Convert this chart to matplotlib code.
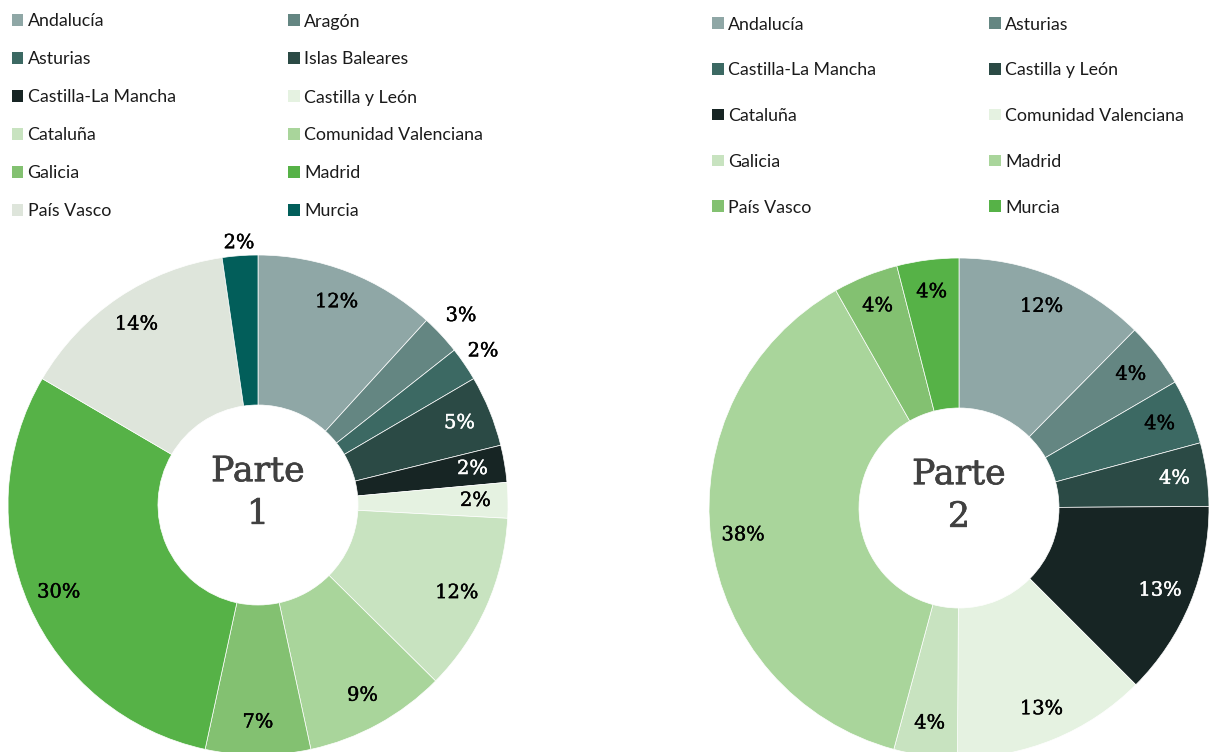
import numpy as np
import matplotlib.pyplot as plt
import matplotlib.patheffects as pe
from matplotlib.patches import Rectangle

# datos (porcentajes)
regiones_1 = ["Andalucía", "Aragón", "Asturias", "Islas Baleares", "Castilla-La Mancha",
              "Castilla y León", "Cataluña", "Comunidad Valenciana", "Galicia", "Madrid",
              "País Vasco", "Murcia"]
valores_1 = [11.8, 2.6, 2.2, 4.6, 2.4, 2.3, 11.6, 9.2, 6.8, 30.1, 14.3, 2.3]

regiones_2 = ["Andalucía", "Asturias", "Castilla-La Mancha", "Castilla y León", "Cataluña",
              "Comunidad Valenciana", "Galicia", "Madrid", "País Vasco", "Murcia"]
valores_2 = [12.4, 4.2, 4.2, 4.1, 12.6, 12.6, 4.1, 37.6, 4.2, 4.0]

paleta = ["#8FA7A6", "#648682", "#3C6963", "#2B4A45", "#172524", "#E5F2E1",
          "#C8E3C0", "#A9D59B", "#83C171", "#56B247", "#DEE5DB", "#025E5A"]

W, H = 1211, 752
fig = plt.figure(figsize=(W / 100, H / 100), dpi=100)

SERIF = "DejaVu Serif"
SANS = "Lato"


def ejes(cx, cy, r):
    return fig.add_axes([(cx - r) / W, 1 - (cy + r) / H, 2 * r / W, 2 * r / H])


def dona(ax, valores, titulo, blancos, fuera):
    wedges, _, textos = ax.pie(valores, colors=paleta[:len(valores)], startangle=90,
                               counterclock=False, radius=1, autopct="%.0f%%",
                               pctdistance=0.87,
                               wedgeprops=dict(width=0.6, edgecolor="white", linewidth=0.5),
                               textprops=dict(family=SERIF, fontsize=14))
    for i, t in enumerate(textos):
        if i in fuera:
            w = wedges[i]
            ang = np.deg2rad((w.theta1 + w.theta2) / 2)
            t.set_position((fuera[i] * np.cos(ang), fuera[i] * np.sin(ang)))
        c = "white" if i in blancos else "black"
        t.set_color(c)
        t.set_path_effects([pe.withStroke(linewidth=0.3, foreground=c)])
    ax.set_xlim(-1, 1)
    ax.set_ylim(-1, 1)
    ax.text(0, 0.05, titulo, ha="center", va="center", fontsize=25, family=SERIF,
            color="#404040", linespacing=1.32,
            path_effects=[pe.withStroke(linewidth=0.5, foreground="#404040")])


def leyenda(nombres, x0, dx, y0, dy):
    s = 11.5
    for i, n in enumerate(nombres):
        fila, col = i // 2, i % 2
        x = x0 + col * dx
        y = y0 + fila * dy
        fig.add_artist(Rectangle((x / W, 1 - (y + s / 2) / H), s / W, s / H,
                                 facecolor=paleta[i], edgecolor="none",
                                 transform=fig.transFigure))
        fig.text((x + s + 4.5) / W, 1 - y / H, n, ha="left", va="center_baseline",
                 fontsize=12.8, family=SANS, color="#1a1a1a")


ax1 = ejes(258, 505, 250)
dona(ax1, valores_1, "Parte\n1", blancos={3, 4}, fuera={1: 1.11, 2: 1.09, 11: 1.05})
leyenda(regiones_1, 11.5, 276.5, 20, 38)

ax2 = ejes(959, 508, 250)
dona(ax2, valores_2, "Parte\n2", blancos={3, 4}, fuera={})
leyenda(regiones_2, 712, 277, 23, 45.8)

fig.savefig("out.png", dpi=100)
